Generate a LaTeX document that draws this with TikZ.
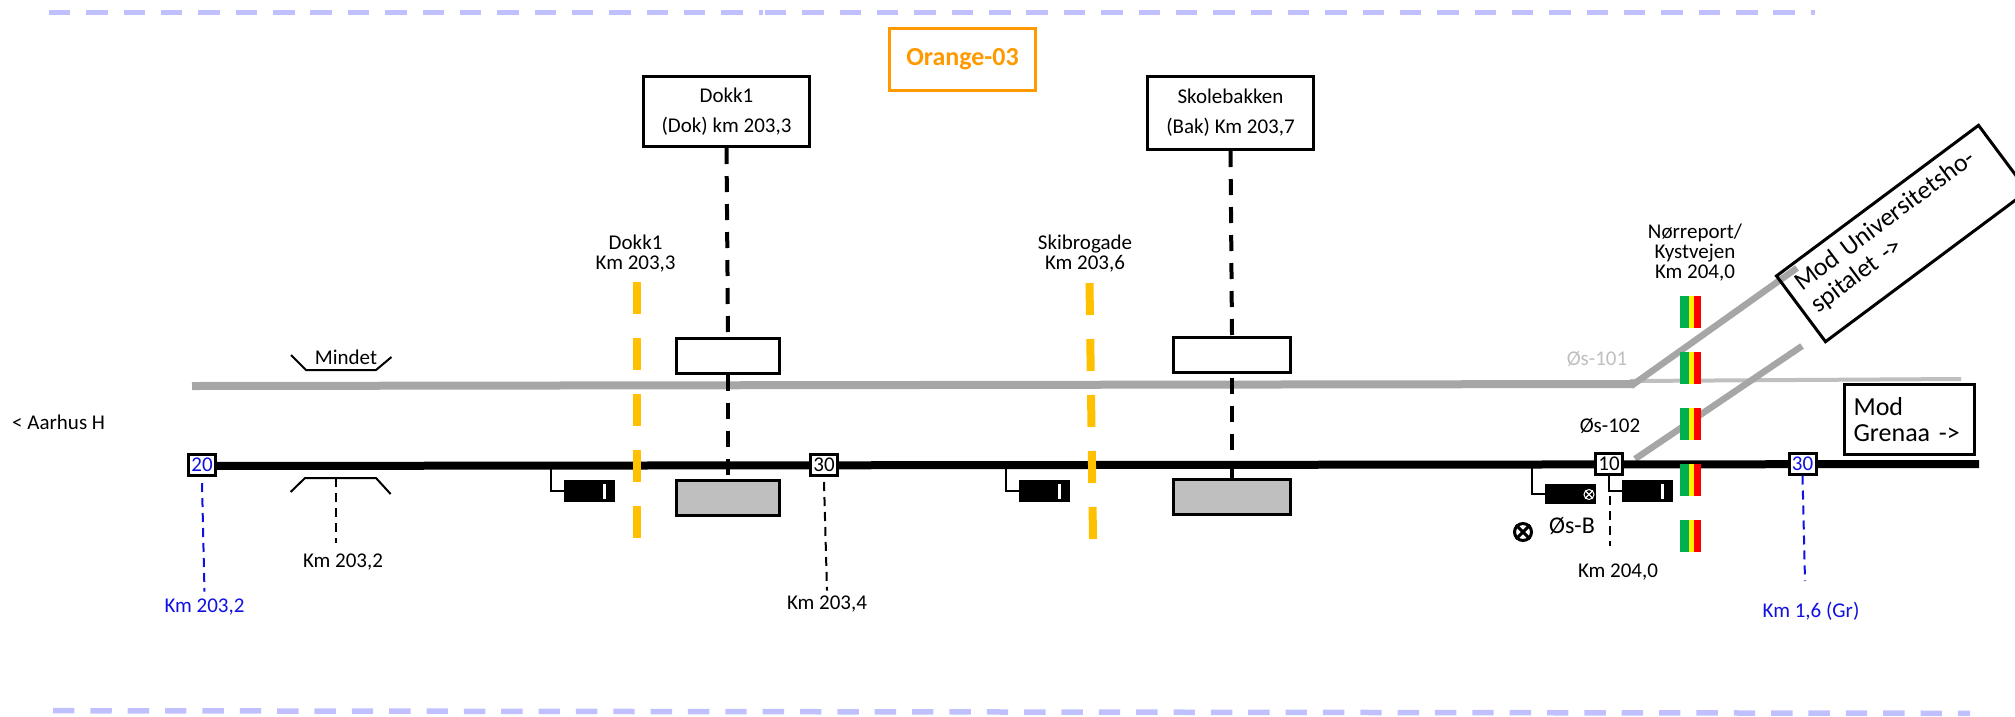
\documentclass[tikz,border=0pt]{standalone}
\usepackage{fontspec}
\setmainfont{Carlito}
\usepackage{tikz}
\definecolor{trackgray}{HTML}{A6A6A6}
\definecolor{lightgray}{HTML}{BFBFBF}
\definecolor{zoneline}{HTML}{C0C0FF}
\definecolor{crossing}{HTML}{FFC000}
\definecolor{titleorange}{HTML}{FF9900}
\definecolor{kmblue}{HTML}{1010E0}
\definecolor{bargreen}{HTML}{00B050}
\tikzset{
  txt/.style={inner sep=0pt,align=center,font=\fontsize{21}{20}\selectfont},
  kmtxt/.style={txt,text=kmblue},
  stationbox/.style={draw,line width=3pt,fill=white,inner sep=0pt,minimum width=166pt,align=center,font=\fontsize{21}{30}\selectfont},
  platform/.style={draw,line width=3pt,inner sep=0pt,minimum width=#1,minimum height=35pt},
  routebox/.style={draw,line width=3pt,inner sep=0pt,align=left,font=\fontsize{26}{26}\selectfont},
  routetxt/.style={inner sep=0pt,align=left,font=\fontsize{25.8}{27}\selectfont},
  kmbox/.style={draw,line width=3pt,fill=white,inner sep=0pt,minimum width=27pt,minimum height=21pt,font=\fontsize{21}{24}\selectfont},
  signal/.style={fill=black,inner sep=0pt,minimum width=51pt,minimum height=22pt},
  sigtick/.style={white,line width=3pt},
  sigstem/.style={line width=2pt},
  zone/.style={zoneline,line width=5.5pt,dash pattern=on 21.4pt off 15.95pt},
  walk/.style={line width=4pt,dash pattern=on 16pt off 12pt},
  tick/.style={line width=2pt,dash pattern=on 9pt off 6pt},
  crossline/.style={crossing,line width=8pt,dash pattern=on 32pt off 24pt},
  plat/.style={line width=2pt}
}
\begin{document}
\begin{tikzpicture}[x=1pt,y=-1pt]
  \clip (0,0) rectangle (2015,716);

  % zone limits
  \draw[zone] (49,12.7) -- (763,12.7);
  \draw[zone] (765,12.7) -- (1815,12.7);
  \draw[zone] (53,710.7) -- (1970,713.3);

  % title
  \node[draw=titleorange,line width=3pt,inner sep=0pt,minimum width=146pt,minimum height=62pt,
    text=titleorange,font=\fontsize{26}{30}\selectfont\bfseries] (title) at (962.5,59.5) {Orange-03};

  % tracks
  \coordinate (trackAw) at (192,386);
  \coordinate (trackAk) at (1634,384);
  \coordinate (trackAend) at (1961,379);
  \coordinate (trackAs) at (1631,386);
  \coordinate (trackAl) at (1630,381);
  \coordinate (hospA) at (1797,268);
  \coordinate (hospB) at (1802,346);
  \coordinate (trackBw) at (190,466);
  \coordinate (trackBe) at (1979,464);
  \coordinate (trackBk) at (1635,459);
  \draw[lightgray,line width=4pt] (trackAl) -- (trackAend);
  \draw[trackgray,line width=8pt] (trackAw) -- (trackAk);
  \draw[trackgray,line width=6.5pt] (trackAs) -- (hospA);
  \draw[trackgray,line width=6.5pt] (trackBk) -- (hospB);
  \draw[line width=8pt] (trackBw) -- (trackBe);

  % stations
  \node[stationbox,minimum height=70pt] (dokk) at (726.5,111.5) {Dokk1\\(Dok) km 203,3};
  \node[stationbox,minimum height=73pt] (skole) at (1230.5,113) {Skolebakken\\(Bak) Km 203,7};
  \node[platform=103pt,fill=white] (dokwhite) at (728,355.5) {};
  \node[platform=117pt,fill=white] (bakwhite) at (1232,354.5) {};
  \node[platform=103pt,fill=lightgray] (dokgray) at (728,497.5) {};
  \node[platform=117pt,fill=lightgray] (bakgray) at (1232,497) {};
  \draw[walk] (dokk.south) -- (dokwhite.north);
  \draw[walk] (skole.south) -- (bakwhite.north);
  \draw[walk] (dokwhite.south) -- (dokgray.north);
  \draw[walk] ([yshift=-4pt]bakwhite.south) -- (bakgray.north);

  % crossings
  \node[txt] (dokklabel) at (635.6,253.5) {Dokk1\\Km 203,3};
  \node[txt] (skiblabel) at (1085,253.5) {Skibrogade\\Km 203,6};
  \coordinate (dokkA) at (636.5,282);
  \coordinate (dokkB) at (636.5,538);
  \coordinate (skibA) at (1089.5,283);
  \coordinate (skibB) at (1093,539);
  \draw[crossline] (dokkA) -- (dokkB);
  \draw[crossline] (skibA) -- (skibB);

  % colour bars
  \foreach \y in {296,352,407.5,464,520} {
    \fill[bargreen] (1680,\y) rectangle (1688.5,\y+32);
    \fill[yellow] (1688.5,\y) rectangle (1694,\y+32);
    \fill[red] (1694,\y) rectangle (1700.5,\y+32);
  }
  \node[txt] (norreport) at (1695,253) {Nørreport/\\Kystvejen\\Km 204,0};

  % route boxes
  \node[routebox,rotate=36.7,minimum width=252pt,minimum height=82pt] (hospital) at (1902,233.5) {};
  \node[routetxt,rotate=36.7,text width=226pt] (hosptxt) at (1896.8,229.4) {Mod Universitetsho-\\spitalet ->};
  \node[routebox,fill=white,minimum width=129.5pt,minimum height=70pt,text width=112pt] (grenaa) at (1909.5,419.5)
    {Mod\\Grenaa ->};

  % km boards
  \node[kmbox,text=kmblue] (km20) at (202,465) {20};
  \node[kmbox] (km30) at (824,465) {30};
  \node[kmbox] (km10) at (1609,463.5) {10};
  \node[kmbox,text=kmblue] (km30gr) at (1802.5,463.5) {30};
  \node[kmtxt] (km20txt) at (204.5,607) {Km 203,2};
  \node[txt] (km30txt) at (827,604) {Km 203,4};
  \node[txt] (km10txt) at (1618,572) {Km 204,0};
  \node[kmtxt] (km30grtxt) at (1811,611) {Km 1,6 (Gr)};
  \coordinate (km10a) at (1610,496);
  \coordinate (km10b) at (1610,546);
  \coordinate (km30grb) at (1805,581);
  \draw[tick,kmblue] ([yshift=-6pt]km20.south) -- ([yshift=7pt]km20txt.north);
  \draw[tick] ([yshift=-5pt]km30.south) -- ([yshift=5pt]km30txt.north);
  \draw[tick] (km10a) -- (km10b);
  \draw[tick,kmblue] (km30gr.south) -- (km30grb);

  % platform Mindet
  \node[txt] (mindet) at (346,357) {Mindet};
  \draw[plat] (291,355) -- (306,370) -- (376,370) -- (391.5,357);
  \node[txt] (minkm) at (343,562) {Km 203,2};
  \draw[plat] (290.6,492) -- (305,478) -- (376,478) -- (390.6,494);
  \coordinate (mintop) at (336,478);
  \coordinate (minend) at (336,543);
  \draw[tick] (mintop) -- (minend);

  % signals
  \node[signal] (sigA) at (589.5,491) {};
  \node[signal] (sigB) at (1044.5,491) {};
  \node[signal,minimum width=50.5pt,minimum height=20pt] (sigC) at (1570.7,494) {};
  \node[signal] (sigD) at (1647.5,491) {};
  \coordinate (stemA) at (551,468);
  \coordinate (stemB) at (1006,468);
  \coordinate (stemC) at (1531.5,467);
  \draw[sigstem] (stemA) |- (sigA.west);
  \draw[sigstem] (stemB) |- (sigB.west);
  \draw[sigstem] (stemC) |- (sigC.west);
  \draw[sigstem] (km10.south) |- (sigD.west);
  \draw[sigtick] (604,484) -- (604,499);
  \draw[sigtick] (1059,484) -- (1059,499);
  \draw[sigtick] (1662,484) -- (1662,499);
  \node[circle,draw=white,line width=1pt,inner sep=0pt,minimum size=10pt] (sigCx) at (1589,494.5) {};
  \draw[white,line width=1.2pt] (sigCx.north west) -- (sigCx.south east);
  \draw[white,line width=1.2pt] (sigCx.north east) -- (sigCx.south west);

  % other labels
  \node[txt,anchor=west] (aarhus) at (12,422) {< Aarhus H};
  \node[txt,text=lightgray] (os101) at (1597,359) {Øs-101};
  \node[txt] (os102) at (1610,426) {Øs-102};
  \node[txt,font=\fontsize{24}{24}\selectfont] (osB) at (1572,526) {Øs-B};
  \node[circle,draw,line width=3pt,inner sep=0pt,minimum size=17pt] (cross) at (1523,532) {};
  \draw[line width=3pt] (cross.north west) -- (cross.south east);
  \draw[line width=3pt] (cross.north east) -- (cross.south west);
\end{tikzpicture}
\end{document}
